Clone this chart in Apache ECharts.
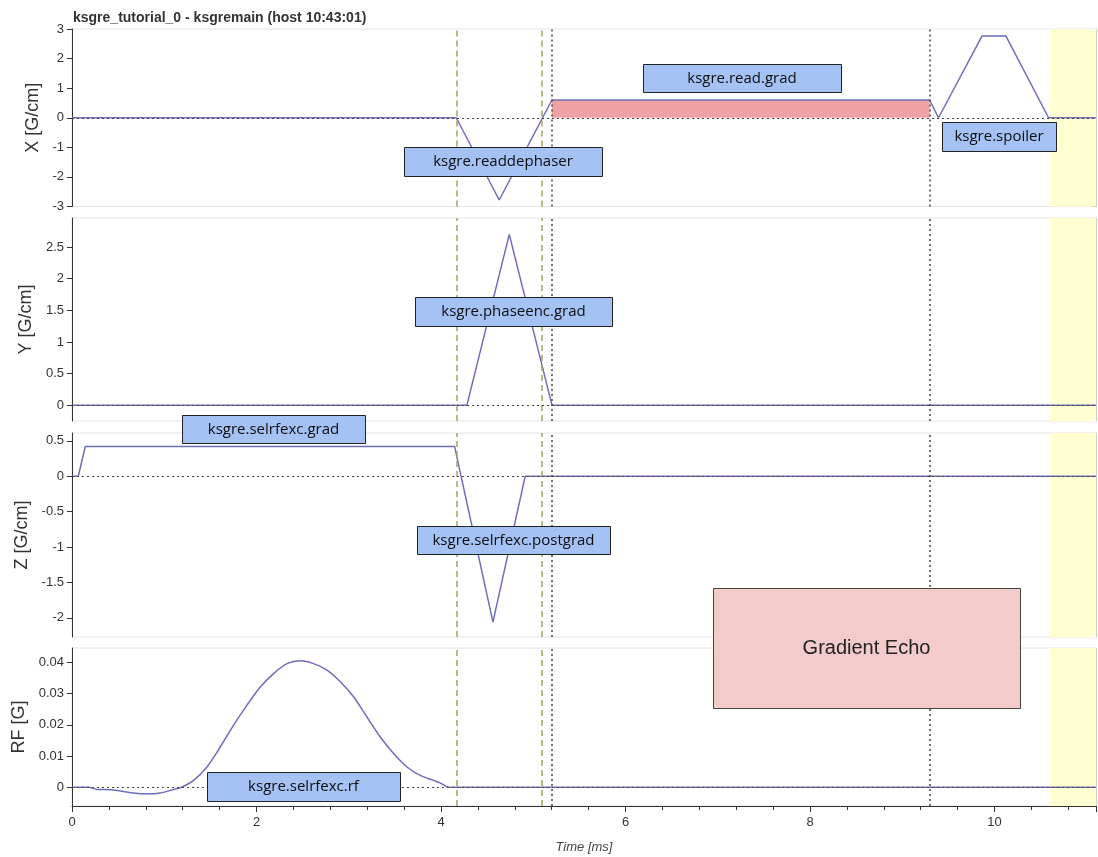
<!DOCTYPE html>
<html>
<head>
<meta charset="utf-8">
<script src="https://cdn.jsdelivr.net/npm/echarts@6/dist/echarts.min.js"></script>
<style>html,body{margin:0;padding:0;background:#fff}#c{width:1098px;height:857px}</style>
</head>
<body>
<div id="c"></div>
<script>
// ---- data ----
const titleText = 'ksgre_tutorial_0 - ksgremain (host 10:43:01)';
const timeMax = 11.1;
const xTicks = [0, 2, 4, 6, 8, 10];

const gxT = [0, 4.165, 4.631, 5.203, 9.296, 9.393, 9.864, 10.124, 10.586, 11.1];
const gxV = [0, 0, -2.78, 0.6, 0.6, 0, 2.76, 2.76, 0, 0];
const readWindow = [5.203, 9.296];
const readAmp = 0.6;

const gyT = [0, 4.281, 4.74, 5.203, 11.1];
const gyV = [0, 0, 2.7, 0, 0];

const gzT = [0, 0.068, 0.144, 4.147, 4.563, 4.913, 11.1];
const gzV = [0, 0, 0.42, 0.42, -2.06, 0, 0];

const rfT = [0, 0.18, 0.27, 0.415, 0.664, 0.813, 0.957, 1.101, 1.192, 1.318, 1.463, 1.607, 1.752, 1.897, 2.041, 2.185, 2.330, 2.475, 2.619, 2.764, 2.908, 3.052, 3.197, 3.342, 3.486, 3.631, 3.775, 3.919, 3.992, 4.082, 11.1];
const rfV = [0, 0, -0.0007, -0.0008, -0.0018, -0.0021, -0.0018, -0.0007, 0.0001, 0.0022, 0.0065, 0.0129, 0.0199, 0.0263, 0.0321, 0.0364, 0.0396, 0.0405, 0.0396, 0.0375, 0.0338, 0.029, 0.0225, 0.0161, 0.0108, 0.0065, 0.0038, 0.0022, 0.0014, 0, 0];

const dashedTimes = [4.165, 5.094];
const dottedTimes = [5.203, 9.296];
const deadTimeStart = 10.596;

const panelNames = ['X [G/cm]', 'Y [G/cm]', 'Z [G/cm]', 'RF [G]'];
const panelMin = [-3, -0.25, -2.27, -0.006];
const panelMax = [3, 2.96, 0.61, 0.0446];
const panelTicks = [
  [-3, -2, -1, 0, 1, 2, 3],
  [0, 0.5, 1, 1.5, 2, 2.5],
  [-2, -1.5, -1, -0.5, 0, 0.5],
  [0, 0.01, 0.02, 0.03, 0.04]
];

const annotations = [
  'ksgre.read.grad', 'ksgre.readdephaser', 'ksgre.spoiler', 'ksgre.phaseenc.grad',
  'ksgre.selrfexc.grad', 'ksgre.selrfexc.postgrad', 'ksgre.selrfexc.rf'
];
const seqLabel = 'Gradient Echo';

// ---- layout ----
const gridBoxes = [
  {top: 29, height: 177.5},
  {top: 218, height: 203},
  {top: 433, height: 204},
  {top: 648, height: 158}
];
const nameGaps = [25, 33, 35, 40];
const annBoxes = [
  [643, 64, 198, 28],
  [404, 147, 198, 29],
  [942, 122, 114, 29],
  [415, 297, 197, 29],
  [182, 415, 183, 28],
  [417, 526, 193, 28],
  [207, 772, 193, 29]
];
const seqBox = [713, 588, 307, 120];

function zip(t, v) { return t.map((x, i) => [x, v[i]]); }
const waves = [zip(gxT, gxV), zip(gyT, gyV), zip(gzT, gzV), zip(rfT, rfV)];

const WAVE = '#6e6eb9';
const grids = gridBoxes.map(g => ({
  left: 72, width: 1024, top: g.top, height: g.height,
  show: true, borderColor: '#e4e4e4', borderWidth: 1, backgroundColor: 'transparent',
  containLabel: false, outerBoundsMode: 'none'
}));

const xAxes = gridBoxes.map((g, i) => {
  const last = i === 3;
  return {
    type: 'value', gridIndex: i, min: 0, max: timeMax, interval: 2,
    show: true,
    axisLine: {show: last, onZero: false, lineStyle: {color: '#333', width: 1}},
    axisTick: {show: last, length: 6, lineStyle: {color: '#333'}},
    minorTick: {show: last, splitNumber: 5, length: 4, lineStyle: {color: '#333'}},
    axisLabel: {show: last, customValues: xTicks, margin: 10, fontSize: 13, color: '#333', fontFamily: 'Liberation Sans'},
    splitLine: {show: false},
    name: last ? 'Time [ms]' : '',
    nameLocation: 'middle', nameGap: 35,
    nameTextStyle: {fontStyle: 'italic', fontSize: 13, color: '#444', fontFamily: 'Liberation Sans'}
  };
});

const yAxes = [];
for (let i = 0; i < 4; i++) {
  yAxes.push({
    type: 'value', gridIndex: i, min: panelMin[i], max: panelMax[i], position: 'left',
    name: panelNames[i], nameLocation: 'middle', nameGap: nameGaps[i], nameRotate: 90,
    nameTextStyle: {fontSize: 18, color: '#333', fontFamily: 'Liberation Sans'},
    axisLine: {show: true, onZero: false, lineStyle: {color: '#333'}},
    axisTick: {show: true, length: 5, customValues: panelTicks[i], lineStyle: {color: '#333'}},
    axisLabel: {show: true, customValues: panelTicks[i], margin: 8, fontSize: 13, color: '#333', fontFamily: 'Liberation Sans'},
    splitLine: {show: false}
  });
}
for (let i = 0; i < 4; i++) {
  yAxes.push({
    type: 'value', gridIndex: i, min: panelMin[i], max: panelMax[i], position: 'right',
    axisLine: {show: true, onZero: false, lineStyle: {color: '#cfcfcf'}},
    axisTick: {show: true, inside: true, length: 4, customValues: panelTicks[i], lineStyle: {color: '#b5b58a'}},
    axisLabel: {show: false},
    splitLine: {show: false}
  });
}

const series = waves.map((d, i) => {
  const vlines = [];
  dashedTimes.forEach(t => vlines.push({xAxis: t, lineStyle: {type: [6, 4], color: '#a3a363', width: 1.5}}));
  dottedTimes.forEach(t => vlines.push({xAxis: t, lineStyle: {type: [2, 3], color: '#444', width: 1.5}}));
  vlines.push({yAxis: 0, lineStyle: {type: [2, 3], color: '#444', width: 1.2}});
  const areas = [[{xAxis: deadTimeStart, itemStyle: {color: '#ffffd2'}}, {xAxis: timeMax}]];
  if (i === 0) {
    areas.push([{coord: [readWindow[0], 0], itemStyle: {color: '#f0a2a2'}}, {coord: [readWindow[1], readAmp]}]);
  }
  return {
    type: 'line', xAxisIndex: i, yAxisIndex: i, data: d,
    showSymbol: false, symbol: 'none', animation: false,
    smooth: i === 3 ? 0.3 : false,
    lineStyle: {color: WAVE, width: 1.5},
    z: 3,
    markLine: {silent: true, symbol: 'none', label: {show: false}, animation: false, data: vlines},
    markArea: {silent: true, animation: false, data: areas}
  };
});

function boxWithText(b, txt, fill, stroke, font, color) {
  return [
    {type: 'rect', z: 100, shape: {x: b[0] + 0.5, y: b[1] + 0.5, width: b[2], height: b[3]},
     style: {fill: fill, stroke: stroke, lineWidth: 1}},
    {type: 'text', z: 101, x: b[0] + b[2] / 2, y: b[1] + b[3] / 2 + 0.5,
     style: {text: txt, font: font, fill: color, textAlign: 'center', textVerticalAlign: 'middle', align: 'center', verticalAlign: 'middle'}}
  ];
}
let graphic = [];
annotations.forEach((txt, k) => {
  graphic = graphic.concat(boxWithText(annBoxes[k], txt, '#a4c2f4', '#222', '15px "Open Sans"', '#0d0d0d'));
});
graphic = graphic.concat(boxWithText(seqBox, seqLabel, '#f4cbcb', '#444', '20px "Liberation Sans"', '#222'));

const chart = echarts.init(document.getElementById('c'), null, {renderer: 'canvas'});
chart.setOption({
  animation: false,
  backgroundColor: '#fff',
  title: {text: titleText, left: 68, top: 6, textStyle: {fontSize: 14, fontWeight: 'bold', color: '#333', fontFamily: 'Liberation Sans'}},
  grid: grids, xAxis: xAxes, yAxis: yAxes, series: series, graphic: graphic
});
</script>
</body>
</html>
